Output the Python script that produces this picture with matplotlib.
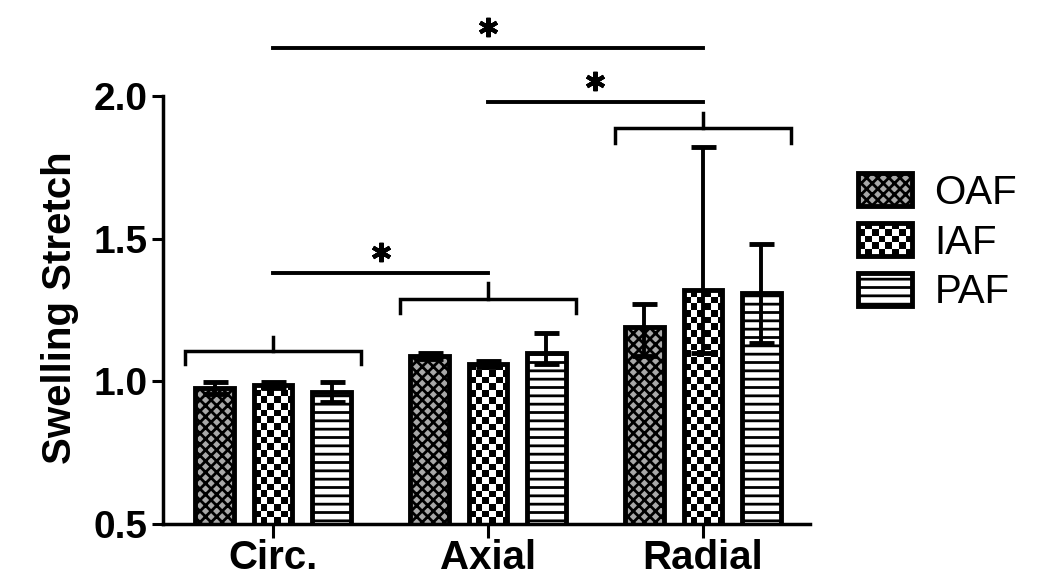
import numpy as np
import matplotlib
matplotlib.use('Agg')
import matplotlib.pyplot as plt
from matplotlib.legend_handler import HandlerBase
from matplotlib.image import BboxImage
from matplotlib.transforms import Bbox, TransformedBbox
from matplotlib.patches import Rectangle

plt.rcParams['font.family'] = ['Liberation Sans', 'DejaVu Sans']
plt.rcParams['hatch.linewidth'] = 2.0

groups = ['Circ.', 'Axial', 'Radial']
layers = ['OAF', 'IAF', 'PAF']

# mean swelling stretch per layer, one value per direction
oaf = [0.977, 1.09, 1.19]
iaf = [0.988, 1.06, 1.32]
paf = [0.963, 1.10, 1.31]
# error bars (lower, upper)
oaf_err = [[0.02, 0.01, 0.10], [0.02, 0.01, 0.08]]
iaf_err = [[0.01, 0.01, 0.22], [0.01, 0.01, 0.50]]
paf_err = [[0.035, 0.04, 0.175], [0.035, 0.07, 0.17]]

# significance lines: (from group, to group, y of line)
sig = [(0, 2, 2.168), (1, 2, 1.979), (0, 1, 1.381)]
# brackets over each group: (y, drop, tick)
brackets = [(1.105, 1.059, 1.157), (1.290, 1.241, 1.346), (1.888, 1.836, 1.941)]


def checker(nrows, ncols):
    c = np.add.outer(np.arange(nrows), np.arange(ncols)) % 2
    return np.repeat((1.0 - c)[..., None], 3, axis=2)


class CheckerHandler(HandlerBase):
    def create_artists(self, legend, orig_handle, xdescent, ydescent,
                       width, height, fontsize, trans):
        bb = TransformedBbox(Bbox.from_bounds(-xdescent, -ydescent, width, height), trans)
        img = BboxImage(bb, interpolation='nearest', origin='lower')
        img.set_data(checker(5, 8))
        rect = Rectangle((-xdescent, -ydescent), width, height, facecolor='none',
                         edgecolor='black', lw=3.5, transform=trans)
        return [img, rect]


fig = plt.figure(figsize=(10.5, 5.79), dpi=100)
ax = fig.add_axes([163/1050, 1-524/579, (810-163)/1050, (524-96)/579])

x = np.arange(len(groups))
off = 0.272
w = 0.18
styles = [dict(facecolor='#a8a8a8', hatch='xxx'),
          dict(facecolor='none'),
          dict(facecolor='white', hatch='--')]
vals = [oaf, iaf, paf]
errs = [oaf_err, iaf_err, paf_err]
handles = []
for i in range(3):
    b = ax.bar(x + (i-1)*off, vals[i], w, edgecolor='black', linewidth=3.5,
               zorder=2, **styles[i])
    handles.append(b)
    ax.errorbar(x + (i-1)*off, vals[i], yerr=errs[i], fmt='none', ecolor='black',
                elinewidth=2.8, capsize=9, capthick=3.5, zorder=3)

# checkerboard fill for IAF bars
cellx = 6.7 / 215
celly = 6.7 / 286
for rect in handles[1]:
    x0 = rect.get_x()
    ncols = int(np.ceil(rect.get_width() / cellx))
    nrows = int(np.ceil((rect.get_height() - 0.5) / celly)) + 1
    im = ax.imshow(checker(nrows, ncols), extent=(x0, x0 + ncols*cellx, 0.5, 0.5 + nrows*celly),
                   origin='lower', interpolation='nearest', aspect='auto', zorder=1.9)
    im.set_clip_path(rect)

for g, (yb, yd, yt) in enumerate(brackets):
    ax.plot([g-0.41, g-0.41, g+0.41, g+0.41], [yd, yb, yb, yd], color='black',
            lw=2.5, clip_on=False, solid_joinstyle='miter')
    ax.plot([g, g], [yb, yt], color='black', lw=2.5, clip_on=False)

for a, b, y in sig:
    ax.plot([a, b], [y, y], color='black', lw=2.8, clip_on=False)
    ax.plot((a+b)/2, y + 0.073, marker=(6, 2, 0), markersize=14, mew=3,
            color='black', clip_on=False)

ax.set_xlim(-0.512, 2.498)
ax.set_ylim(0.5, 2.0)
ax.set_yticks([0.5, 1.0, 1.5, 2.0])
ax.set_xticks(x)
ax.set_xticklabels(groups)
for s in ['top', 'right']:
    ax.spines[s].set_visible(False)
for s in ['left', 'bottom']:
    ax.spines[s].set_linewidth(2.5)
ax.tick_params(axis='y', length=8, width=2.2, labelsize=28, pad=3)
ax.tick_params(axis='x', length=10, width=2.2, labelsize=29, pad=1)
for lab in ax.get_xticklabels() + ax.get_yticklabels():
    lab.set_fontweight('bold')
ax.set_ylabel('Swelling Stretch', fontsize=29, fontweight='bold')
ax.yaxis.set_label_coords(-0.13, 0.505)

ax.legend(handles, layers, loc='upper left', bbox_to_anchor=(858/1050, 1-173/579),
          bbox_transform=fig.transFigure, frameon=False, fontsize=29,
          handlelength=1.35, handleheight=0.9, handletextpad=0.55,
          labelspacing=0.28, borderpad=0, borderaxespad=0,
          handler_map={handles[1]: CheckerHandler()})

fig.savefig('out.png', dpi=100)
